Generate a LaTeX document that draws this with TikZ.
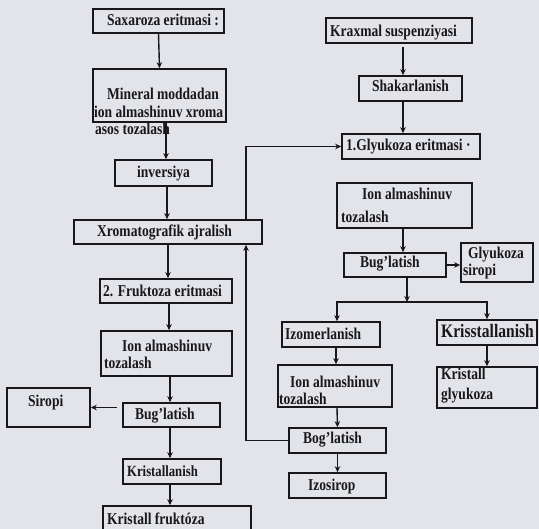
\documentclass[tikz,border=0pt]{standalone}
\usepackage{fontspec}
\setmainfont{Liberation Serif}[FakeStretch=0.82]
\usetikzlibrary{arrows.meta}
\definecolor{paper}{RGB}{227,228,233}
\definecolor{ink}{RGB}{24,24,26}
\tikzset{
  box/.style={draw=ink, line width=1.6pt, inner sep=0pt},
  txt/.style={inner sep=0pt, anchor=base west, text=ink,
              font=\bfseries\fontsize{16.5}{18}\selectfont},
  arr/.style={draw=ink, line width=1.4pt, -{Stealth[length=6pt,width=5.5pt]}},
  link/.style={draw=ink, line width=1.4pt}
}
\begin{document}
\begin{tikzpicture}[x=1pt,y=-1pt]
\useasboundingbox (0,0) rectangle (539,529);
\fill[paper] (0,0) rectangle (539,529);

% ---- fructose line (left) ----
\node[box, minimum width=131pt, minimum height=24pt] (sax)    at (158.5,21)    {};
\node[box, minimum width=133pt, minimum height=53pt] (mineral) at (159.5,95.5) {};
\node[box, minimum width=97pt,  minimum height=26pt] (inv)    at (163.5,173)   {};
\node[box, minimum width=188pt, minimum height=24pt] (xrom)   at (168,232)     {};
\node[box, minimum width=132pt, minimum height=24pt] (fruk)   at (166,291)     {};
\node[box, minimum width=131pt, minimum height=45pt] (ionL)   at (166.5,353.5) {};
\node[box, minimum width=83pt,  minimum height=39pt] (siropi) at (48.5,407.5)  {};
\node[box, minimum width=97pt,  minimum height=24pt] (bugL)   at (171.5,415)   {};
\node[box, minimum width=98pt,  minimum height=25pt] (kristL) at (172,471.5)   {};
\node[box, minimum width=148pt, minimum height=39pt] (krfr)   at (177,525.5)   {};

% ---- glucose line (right) ----
\node[box, minimum width=146pt, minimum height=25pt] (krax)   at (399,30.5)    {};
\node[box, minimum width=103pt, minimum height=25pt] (shak)   at (410.5,88.5)  {};
\node[box, minimum width=138pt, minimum height=25pt] (gly1)   at (411,146.5)   {};
\node[box, minimum width=135pt, minimum height=45pt] (ionR1)  at (404.5,205.5) {};
\node[box, minimum width=102pt, minimum height=24pt] (bugR1)  at (395,265)     {};
\node[box, minimum width=72pt,  minimum height=39pt] (glysir) at (497,262.5)   {};
\node[box, minimum width=98pt,  minimum height=25pt] (izom)   at (331,334.5)   {};
\node[box, minimum width=100pt, minimum height=25pt] (kriss)  at (487,332.5)   {};
\node[box, minimum width=100pt, minimum height=41pt] (kristgl) at (487,387.5)  {};
\node[box, minimum width=114pt, minimum height=42pt] (ionR2)  at (335,386)     {};
\node[box, minimum width=97pt,  minimum height=25pt] (bogR)   at (337.5,440.5) {};
\node[box, minimum width=97pt,  minimum height=25pt] (izos)   at (337.5,485.5) {};

% ---- labels ----
\node[txt] (t-sax)  at (107,26)  {Saxaroza eritmasi :};
\node[txt] (t-min1) at (107,100) {Mineral moddadan};
\node[txt] (t-min2) at (94,118)  {ion almashinuv xroma};
\node[txt] (t-min3) at (95,135)  {asos tozalash};
\node[txt] (t-inv)  at (137,178) {inversiya};
\node[txt] (t-xrom) at (97,237)  {Xromatografik ajralish};
\node[txt] (t-fruk) at (103,297) {2. Fruktoza eritmasi};
\node[txt] (t-ionL1) at (122,352) {Ion almashinuv};
\node[txt] (t-ionL2) at (104,369) {tozalash};
\node[txt] (t-sir)  at (28,407)  {Siropi};
\node[txt] (t-bugL) at (135,420) {Bug'latish};
\node[txt, font=\bfseries\fontsize{15.5}{18}\selectfont] (t-krL) at (127,477) {Kristallanish};
\node[txt] (t-krfr) at (107,525) {Kristall fruktóza};

\node[txt] (t-krax) at (330,37)  {Kraxmal suspenziyasi};
\node[txt] (t-shak) at (372,92)  {Shakarlanish};
\node[txt] (t-gly1) at (346,151) {1.Glyukoza eritmasi ·};
\node[txt] (t-ionR1a) at (362,200) {Ion almashinuv};
\node[txt] (t-ionR1b) at (341,223) {tozalash};
\node[txt] (t-bugR1) at (360,268) {Bug'latish};
\node[txt] (t-gs1)  at (468,259) {Glyukoza};
\node[txt] (t-gs2)  at (463,276) {siropi};
\node[txt] (t-izom) at (285,340) {Izomerlanish};
\node[txt, font=\bfseries\fontsize{19}{20}\selectfont] (t-kriss) at (441,338) {Krisstallanish};
\node[txt] (t-kg1)  at (441,380) {Kristall};
\node[txt] (t-kg2)  at (441,400) {glyukoza};
\node[txt] (t-ionR2a) at (290,388) {Ion almashinuv};
\node[txt] (t-ionR2b) at (279,405) {tozalash};
\node[txt] (t-bogR) at (303,444) {Bog'latish};
\node[txt] (t-izos) at (308,491) {Izosirop};

% ---- connectors, left ----
\draw[arr] (sax.south) -- (mineral.north);
\draw[arr] ([xshift=6.5pt]mineral.south) -- ([xshift=2.5pt]inv.north);
\draw[arr] ([xshift=3.5pt]inv.south) -- ([xshift=-1pt]xrom.north);
\draw[arr] (xrom.south) -- ([xshift=2pt]fruk.north);
\draw[arr] ([xshift=3pt]fruk.south) -- ([xshift=2.5pt]ionL.north);
\draw[arr] ([xshift=3.5pt]ionL.south) -- ([xshift=-1.5pt]bugL.north);
\draw[arr, shorten <=5pt] (bugL.west |- siropi.east) -- (siropi.east);
\draw[arr] ([xshift=-1.5pt]bugL.south) -- ([xshift=-2pt]kristL.north);
\draw[arr] ([xshift=-2pt]kristL.south) -- ([xshift=-7pt]krfr.north);

% ---- connectors, right ----
\draw[arr, shorten <=3pt] ([xshift=4pt]krax.south) -- ([xshift=-7.5pt]shak.north);
\draw[arr] ([xshift=-7.5pt]shak.south) -- ([xshift=-8pt]gly1.north);
\draw[arr] ([xshift=78pt]xrom.north) |- (gly1.west);
\draw[arr] (bogR.west) -| ([xshift=78pt]xrom.south);
\draw[arr] ([xshift=-1.5pt]ionR1.south) -- ([xshift=8pt]bugR1.north);
\draw[arr] (bugR1.east) -- (bugR1.east -| glysir.west);
\coordinate (split) at (407,302);
\draw[arr] ([xshift=12pt]bugR1.south) -- (split);
\draw[arr] (split) -| ([xshift=6pt]izom.north);
\draw[arr] (split) -| (kriss.north);
\draw[arr] ([xshift=5pt]izom.south) -- ([xshift=1pt]ionR2.north);
\draw[arr] ([xshift=2pt]ionR2.south) -- (bogR.north);
\draw[arr] (bogR.south) -- (izos.north);
\draw[arr] (kriss.south) -- (kristgl.north);
\end{tikzpicture}
\end{document}
